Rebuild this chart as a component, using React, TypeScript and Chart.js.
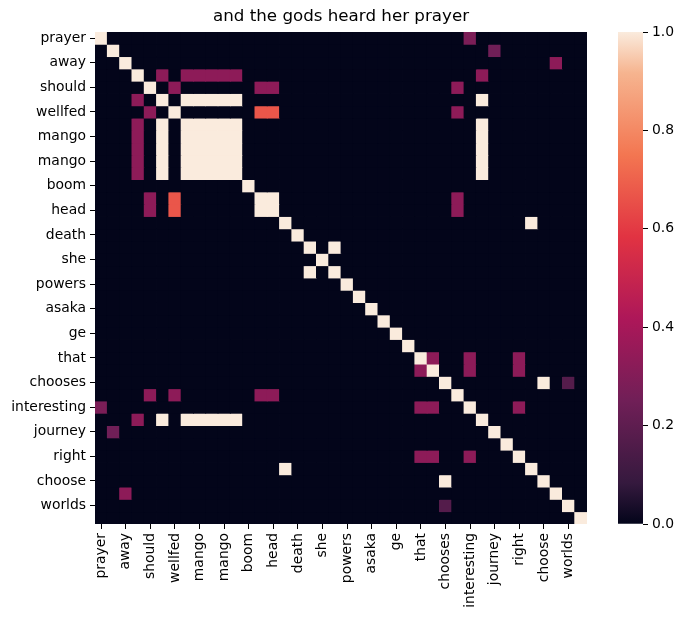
import { useEffect, useRef } from "react";
import { Chart, registerables } from "chart.js";

Chart.register(...registerables);

const FONT = "'DejaVu Sans', sans-serif";

const title = "and the gods heard her prayer";

// every second token is labelled on both axes
const tickLabels = [
  "prayer", "away", "should", "wellfed", "mango", "mango", "boom", "head", "death", "she",
  "powers", "asaka", "ge", "that", "chooses", "interesting", "journey", "right", "choose", "worlds",
];

const barTicks = [0, 0.2, 0.4, 0.6, 0.8, 1.0];

// 40 x 40 attention matrix, row by row
const heat: number[][] = [
  [1,0,0,0,0,0,0,0,0,0, 0,0,0,0,0,0,0,0,0,0, 0,0,0,0,0,0,0,0,0,0, .28,0,0,0,0,0,0,0,0,0],
  [0,1,0,0,0,0,0,0,0,0, 0,0,0,0,0,0,0,0,0,0, 0,0,0,0,0,0,0,0,0,0, 0,0,.25,0,0,0,0,0,0,0],
  [0,0,1,0,0,0,0,0,0,0, 0,0,0,0,0,0,0,0,0,0, 0,0,0,0,0,0,0,0,0,0, 0,0,0,0,0,0,0,.33,0,0],
  [0,0,0,1,0,.33,0,.33,.33,.33, .33,.33,0,0,0,0,0,0,0,0, 0,0,0,0,0,0,0,0,0,0, 0,.33,0,0,0,0,0,0,0,0],
  [0,0,0,0,1,0,.33,0,0,0, 0,0,0,.33,.33,0,0,0,0,0, 0,0,0,0,0,0,0,0,0,.33, 0,0,0,0,0,0,0,0,0,0],
  [0,0,0,.33,0,1,0,1,1,1, 1,1,0,0,0,0,0,0,0,0, 0,0,0,0,0,0,0,0,0,0, 0,1,0,0,0,0,0,0,0,0],
  [0,0,0,0,.33,0,1,0,0,0, 0,0,0,.67,.67,0,0,0,0,0, 0,0,0,0,0,0,0,0,0,.33, 0,0,0,0,0,0,0,0,0,0],
  [0,0,0,.33,0,1,0,1,1,1, 1,1,0,0,0,0,0,0,0,0, 0,0,0,0,0,0,0,0,0,0, 0,1,0,0,0,0,0,0,0,0],
  [0,0,0,.33,0,1,0,1,1,1, 1,1,0,0,0,0,0,0,0,0, 0,0,0,0,0,0,0,0,0,0, 0,1,0,0,0,0,0,0,0,0],
  [0,0,0,.33,0,1,0,1,1,1, 1,1,0,0,0,0,0,0,0,0, 0,0,0,0,0,0,0,0,0,0, 0,1,0,0,0,0,0,0,0,0],
  [0,0,0,.33,0,1,0,1,1,1, 1,1,0,0,0,0,0,0,0,0, 0,0,0,0,0,0,0,0,0,0, 0,1,0,0,0,0,0,0,0,0],
  [0,0,0,.33,0,1,0,1,1,1, 1,1,0,0,0,0,0,0,0,0, 0,0,0,0,0,0,0,0,0,0, 0,1,0,0,0,0,0,0,0,0],
  [0,0,0,0,0,0,0,0,0,0, 0,0,1,0,0,0,0,0,0,0, 0,0,0,0,0,0,0,0,0,0, 0,0,0,0,0,0,0,0,0,0],
  [0,0,0,0,.33,0,.67,0,0,0, 0,0,0,1,1,0,0,0,0,0, 0,0,0,0,0,0,0,0,0,.33, 0,0,0,0,0,0,0,0,0,0],
  [0,0,0,0,.33,0,.67,0,0,0, 0,0,0,1,1,0,0,0,0,0, 0,0,0,0,0,0,0,0,0,.33, 0,0,0,0,0,0,0,0,0,0],
  [0,0,0,0,0,0,0,0,0,0, 0,0,0,0,0,1,0,0,0,0, 0,0,0,0,0,0,0,0,0,0, 0,0,0,0,0,1,0,0,0,0],
  [0,0,0,0,0,0,0,0,0,0, 0,0,0,0,0,0,1,0,0,0, 0,0,0,0,0,0,0,0,0,0, 0,0,0,0,0,0,0,0,0,0],
  [0,0,0,0,0,0,0,0,0,0, 0,0,0,0,0,0,0,1,0,1, 0,0,0,0,0,0,0,0,0,0, 0,0,0,0,0,0,0,0,0,0],
  [0,0,0,0,0,0,0,0,0,0, 0,0,0,0,0,0,0,0,1,0, 0,0,0,0,0,0,0,0,0,0, 0,0,0,0,0,0,0,0,0,0],
  [0,0,0,0,0,0,0,0,0,0, 0,0,0,0,0,0,0,1,0,1, 0,0,0,0,0,0,0,0,0,0, 0,0,0,0,0,0,0,0,0,0],
  [0,0,0,0,0,0,0,0,0,0, 0,0,0,0,0,0,0,0,0,0, 1,0,0,0,0,0,0,0,0,0, 0,0,0,0,0,0,0,0,0,0],
  [0,0,0,0,0,0,0,0,0,0, 0,0,0,0,0,0,0,0,0,0, 0,1,0,0,0,0,0,0,0,0, 0,0,0,0,0,0,0,0,0,0],
  [0,0,0,0,0,0,0,0,0,0, 0,0,0,0,0,0,0,0,0,0, 0,0,1,0,0,0,0,0,0,0, 0,0,0,0,0,0,0,0,0,0],
  [0,0,0,0,0,0,0,0,0,0, 0,0,0,0,0,0,0,0,0,0, 0,0,0,1,0,0,0,0,0,0, 0,0,0,0,0,0,0,0,0,0],
  [0,0,0,0,0,0,0,0,0,0, 0,0,0,0,0,0,0,0,0,0, 0,0,0,0,1,0,0,0,0,0, 0,0,0,0,0,0,0,0,0,0],
  [0,0,0,0,0,0,0,0,0,0, 0,0,0,0,0,0,0,0,0,0, 0,0,0,0,0,1,0,0,0,0, 0,0,0,0,0,0,0,0,0,0],
  [0,0,0,0,0,0,0,0,0,0, 0,0,0,0,0,0,0,0,0,0, 0,0,0,0,0,0,1,.33,0,0, .33,0,0,0,.33,0,0,0,0,0],
  [0,0,0,0,0,0,0,0,0,0, 0,0,0,0,0,0,0,0,0,0, 0,0,0,0,0,0,.33,1,0,0, .33,0,0,0,.33,0,0,0,0,0],
  [0,0,0,0,0,0,0,0,0,0, 0,0,0,0,0,0,0,0,0,0, 0,0,0,0,0,0,0,0,1,0, 0,0,0,0,0,0,1,0,.17,0],
  [0,0,0,0,.33,0,.33,0,0,0, 0,0,0,.33,.33,0,0,0,0,0, 0,0,0,0,0,0,0,0,0,1, 0,0,0,0,0,0,0,0,0,0],
  [.28,0,0,0,0,0,0,0,0,0, 0,0,0,0,0,0,0,0,0,0, 0,0,0,0,0,0,.33,.33,0,0, 1,0,0,0,.33,0,0,0,0,0],
  [0,0,0,.33,0,1,0,1,1,1, 1,1,0,0,0,0,0,0,0,0, 0,0,0,0,0,0,0,0,0,0, 0,1,0,0,0,0,0,0,0,0],
  [0,.25,0,0,0,0,0,0,0,0, 0,0,0,0,0,0,0,0,0,0, 0,0,0,0,0,0,0,0,0,0, 0,0,1,0,0,0,0,0,0,0],
  [0,0,0,0,0,0,0,0,0,0, 0,0,0,0,0,0,0,0,0,0, 0,0,0,0,0,0,0,0,0,0, 0,0,0,1,0,0,0,0,0,0],
  [0,0,0,0,0,0,0,0,0,0, 0,0,0,0,0,0,0,0,0,0, 0,0,0,0,0,0,.33,.33,0,0, .33,0,0,0,1,0,0,0,0,0],
  [0,0,0,0,0,0,0,0,0,0, 0,0,0,0,0,1,0,0,0,0, 0,0,0,0,0,0,0,0,0,0, 0,0,0,0,0,1,0,0,0,0],
  [0,0,0,0,0,0,0,0,0,0, 0,0,0,0,0,0,0,0,0,0, 0,0,0,0,0,0,0,0,1,0, 0,0,0,0,0,0,1,0,0,0],
  [0,0,.33,0,0,0,0,0,0,0, 0,0,0,0,0,0,0,0,0,0, 0,0,0,0,0,0,0,0,0,0, 0,0,0,0,0,0,0,1,0,0],
  [0,0,0,0,0,0,0,0,0,0, 0,0,0,0,0,0,0,0,0,0, 0,0,0,0,0,0,0,0,.17,0, 0,0,0,0,0,0,0,0,1,0],
  [0,0,0,0,0,0,0,0,0,0, 0,0,0,0,0,0,0,0,0,0, 0,0,0,0,0,0,0,0,0,0, 0,0,0,0,0,0,0,0,0,1],
];

// seaborn "rocket" colormap, sampled
const rocketStops: [number, number[]][] = [
  [0, [3, 5, 26]],
  [0.0833, [53, 25, 62]],
  [0.25, [112, 31, 87]],
  [0.4167, [173, 23, 89]],
  [0.5833, [225, 51, 66]],
  [0.75, [243, 118, 81]],
  [0.9167, [246, 180, 143]],
  [1, [250, 235, 221]],
];

function rocket(v: number) {
  for (let i = 1; i < rocketStops.length; i++) {
    const [p1, c1] = rocketStops[i];
    if (v <= p1) {
      const [p0, c0] = rocketStops[i - 1];
      const t = (v - p0) / (p1 - p0);
      const c = c0.map((a, k) => Math.round(a + (c1[k] - a) * t));
      return `rgb(${c[0]},${c[1]},${c[2]})`;
    }
  }
  return "rgb(250,235,221)";
}

const tickFont = { family: FONT, size: 13.9 };

function Heatmap() {
  const ref = useRef<HTMLCanvasElement | null>(null);

  useEffect(() => {
    if (!ref.current) return;
    const n = heat.length;

    const chart = new Chart(ref.current, {
      type: "bar",
      data: {
        labels: heat[0].map((_, i) => String(i)),
        datasets: heat.map((row, r) => ({
          data: row.map(() => [r, r + 1]),
          backgroundColor: row.map(rocket),
          borderWidth: 0,
          inflateAmount: 0.4,
          grouped: false,
          barPercentage: 1,
          categoryPercentage: 1,
        })) as any,
      },
      options: {
        animation: false,
        responsive: false,
        plugins: {
          legend: { display: false },
          tooltip: { enabled: false },
          title: {
            display: true,
            text: title,
            color: "#000",
            font: { family: FONT, size: 16.7, weight: "normal" },
            padding: { top: 7, bottom: 5 },
          },
        },
        scales: {
          x: {
            type: "category",
            offset: true,
            border: { display: false },
            grid: {
              offset: false,
              drawOnChartArea: false,
              tickLength: 5,
              color: (c: any) => (c.index % 2 === 0 ? "#000" : "rgba(0,0,0,0)"),
            },
            ticks: {
              autoSkip: false,
              maxRotation: 90,
              minRotation: 90,
              padding: 4,
              color: "#000",
              font: tickFont,
              callback: (_v: any, i: number) => (i % 2 === 0 ? tickLabels[i / 2] : ""),
            },
            afterFit: (s: any) => {
              s.height = 95;
            },
          },
          y: {
            type: "linear",
            reverse: true,
            min: 0,
            max: n,
            border: { display: false },
            grid: { drawOnChartArea: false, tickLength: 5, color: "#000" },
            ticks: {
              padding: 4,
              color: "#000",
              font: tickFont,
              crossAlign: "near",
              callback: (_v: any, i: number) => tickLabels[i],
            },
            afterBuildTicks: (s: any) => {
              s.ticks = tickLabels.map((_, k) => ({ value: 2 * k + 0.5 }));
            },
            afterFit: (s: any) => {
              s.width = 95;
            },
          },
          // empty right-hand gutter so the title centres over the cells
          gutter: {
            type: "linear",
            position: "right",
            display: true,
            grid: { display: false },
            ticks: { display: false },
            border: { display: false },
            afterFit: (s: any) => {
              s.width = 95;
            },
          },
        },
      },
    });

    return () => chart.destroy();
  }, []);

  return (
    <canvas
      ref={ref}
      width={682}
      height={619}
      style={{ position: "absolute", left: 0, top: 0 }}
    />
  );
}

function ColorBar() {
  const ref = useRef<HTMLCanvasElement | null>(null);

  useEffect(() => {
    if (!ref.current) return;

    const chart = new Chart(ref.current, {
      type: "bar",
      data: {
        labels: [""],
        datasets: [
          {
            data: [[barTicks[0], barTicks[barTicks.length - 1]]] as any,
            backgroundColor: (ctx: any) => {
              const area = ctx.chart.chartArea;
              if (!area) return rocket(0.5);
              const g = ctx.chart.ctx.createLinearGradient(0, area.bottom, 0, area.top);
              rocketStops.forEach(([p]) => g.addColorStop(p, rocket(p)));
              return g;
            },
            borderWidth: 0,
            barPercentage: 1,
            categoryPercentage: 1,
          },
        ],
      },
      options: {
        animation: false,
        responsive: false,
        layout: { padding: { left: 18, right: 0, top: 32, bottom: 95 } },
        plugins: { legend: { display: false }, tooltip: { enabled: false } },
        scales: {
          x: { display: false },
          y: {
            position: "right",
            min: 0,
            max: 1,
            border: { display: false },
            grid: { drawOnChartArea: false, tickLength: 5, color: "#000" },
            ticks: {
              padding: 4,
              color: "#000",
              font: tickFont,
              callback: (v: any) => Number(v).toFixed(1),
            },
            afterBuildTicks: (s: any) => {
              s.ticks = barTicks.map((value) => ({ value }));
            },
            afterFit: (s: any) => {
              s.width = 41;
            },
          },
        },
      },
    });

    return () => chart.destroy();
  }, []);

  return (
    <canvas
      ref={ref}
      width={84}
      height={619}
      style={{ position: "absolute", left: 600, top: 0 }}
    />
  );
}

export default function App() {
  return (
    <div
      style={{
        position: "fixed",
        left: 0,
        top: 0,
        width: 684,
        height: 619,
        background: "#fff",
      }}
    >
      <Heatmap />
      <ColorBar />
    </div>
  );
}
